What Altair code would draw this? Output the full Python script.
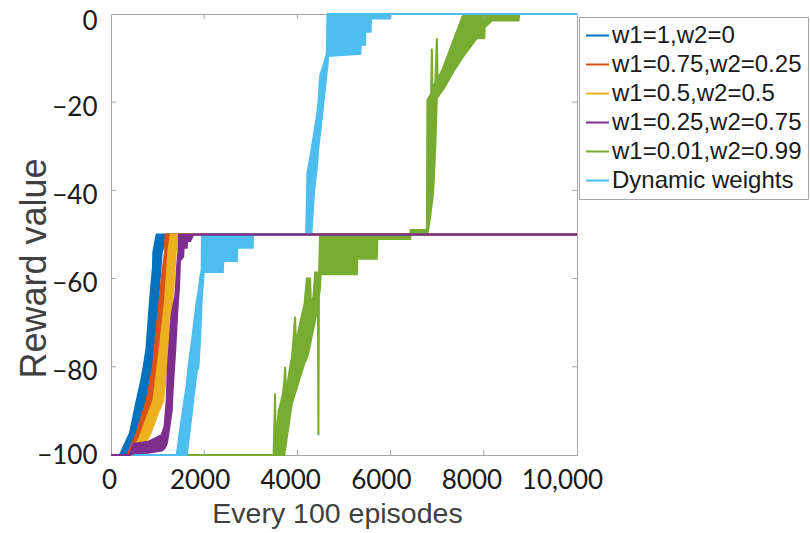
import altair as alt
import pandas as pd

# Plot area size (pixels)
W, H = 466, 441

SERIES = ["w1=1,w2=0", "w1=0.75,w2=0.25", "w1=0.5,w2=0.5",
          "w1=0.25,w2=0.75", "w1=0.01,w2=0.99", "Dynamic weights"]
COLORS = ["#0072BD", "#D95319", "#EDB120", "#7E2F8E", "#77AC30", "#4DBEEE"]

X_TICKS = [0, 2000, 4000, 6000, 8000, 10000]
Y_TICKS = [0, -20, -40, -60, -80, -100]

# Each run oscillates rapidly, so it is described by a lower and an upper
# envelope of the reward at a set of episode positions.
BLUE_EP = [0, 190, 408, 420, 551, 650, 700, 760, 837, 900, 908, 980, 1010, 1090, 1200, 10000]
BLUE_LO = [-100, -100, -100, -100, -97.9, -95, -91.7, -87.7, -83.9, -80, -79, -72.5, -65, -54, -50, -50]
BLUE_HI = [-100, -100, -95, -94.4, -87.7, -83, -80, -76, -65, -57.4, -54, -50, -50, -50, -50, -50]

ORANGE_EP = [0, 350, 520, 551, 740, 766, 900, 960, 1040, 1090, 1160, 1170, 1230, 1320, 1350, 10000]
ORANGE_LO = [-100, -100, -100, -99.3, -95, -94.1, -89.6, -87.7, -83.4, -80, -72.5, -71.4, -65, -54, -50, -50]
ORANGE_HI = [-100, -100, -95.8, -95, -88.5, -87.7, -80, -73.6, -65, -59.6, -54, -50, -50, -50, -50, -50]

YELLOW_EP = [0, 450, 620, 650, 850, 908, 1000, 1120, 1160, 1190, 1230, 1280, 1320, 1390, 1420, 10000]
YELLOW_LO = [-100, -100, -100, -99.3, -95, -93.4, -90.7, -87.7, -83.7, -80, -75.4, -69.2, -65, -54, -50, -50]
YELLOW_HI = [-100, -100, -95.8, -95, -89.3, -87.7, -80, -68.8, -65, -60.3, -54, -50, -50, -50, -50, -50]

PURPLE_EP = [0, 400, 480, 800, 1088, 1150, 1195, 1220, 1303, 1330, 1380, 1420, 1445, 1460,
             1480, 1550, 1560, 1625, 1635, 1700, 1767, 10000]
PURPLE_LO = [-100, -100, -99.6, -99.5, -99, -98.5, -97.5, -96, -90, -84, -76, -68, -64, -62,
             -56, -55, -53, -53, -51.5, -51.5, -50, -50]
PURPLE_HI = [-100, -100, -97.5, -97, -95.5, -93.5, -87.7, -80, -68, -66.5, -64, -57, -54, -50,
             -50, -50, -50, -50, -50, -50, -50, -50]

GREEN_EP = [0, 3490, 3521, 3535, 3600, 3693, 3720, 3736, 3760, 3843, 3880, 3900, 3950, 3970,
            4058, 4150, 4202, 4230, 4273, 4290, 4345, 4380, 4440, 4451, 4462, 4487, 4500,
            5275, 5285, 5705, 5715, 6420, 6430, 6743, 6778, 6790, 6849, 6870, 6885, 6900,
            6921, 6960, 6993, 7010, 7135, 7350, 7565, 7851, 8010, 8020, 8172, 8746, 8760, 10000]
GREEN_LO = [-100, -100, -100, -100, -100, -100, -100, -98.8, -97, -91, -88.4, -87.7, -86, -85.3,
            -82.3, -79.2, -78, -77, -74.9, -74, -71.2, -69.5, -66, -95.5, -64, -62, -59,
            -59, -55.5, -55.5, -51, -51, -50, -50, -50, -50, -46, -44, -43, -42,
            -39, -30, -19, -18.8, -17, -13, -9.5, -5.5, -5.5, -3, -1.5, -1.5, 0, 0]
GREEN_HI = [-100, -100, -86, -97, -90, -86, -83, -80, -86, -80, -78, -76, -68.6, -75,
            -70, -66, -60, -60, -60, -66, -64, -58.6, -58.6, -60, -60, -50, -50,
            -50, -50, -50, -50, -50, -49, -49, -50, -19.5, -18.5, -18, -7.8, -17,
            -16.5, -15.5, -5.5, -15, -12, -6, 0, 0, 0, 0, 0, 0, 0, 0]

CYAN_EP = [0, 1410, 1500, 1625, 1660, 1750, 1840, 1875, 1910, 1946, 1952, 1980, 1990, 2400,
           2410, 2700, 2710, 3040, 3050, 4187, 4216, 4300, 4360, 4416, 4452, 4487, 4580,
           4631, 4645, 4660, 5350, 5360, 5450, 5460, 5570, 5580, 5990, 6000, 10000]
CYAN_LO = [-100, -100, -100, -100, -97, -89, -81, -80.2, -74, -65, -64, -60, -58.5, -58.5,
           -56, -56, -53, -53, -50, -50, -50, -50, -40, -35, -30, -27, -18,
           -13, -12, -9.5, -9, -7, -7, -4, -4, -1, -1, 0, 0]
CYAN_HI = [-100, -100, -93, -84, -80.2, -73, -65, -63, -60, -58, -50, -50, -50, -50,
           -50, -50, -50, -50, -50, -50, -36, -31, -27, -23.3, -20, -14, -11,
           -9, 0, 0, 0, 0, 0, 0, 0, 0, 0, 0, 0]

RUNS = {
    "w1=1,w2=0": (BLUE_EP, BLUE_LO, BLUE_HI),
    "w1=0.75,w2=0.25": (ORANGE_EP, ORANGE_LO, ORANGE_HI),
    "w1=0.5,w2=0.5": (YELLOW_EP, YELLOW_LO, YELLOW_HI),
    "w1=0.25,w2=0.75": (PURPLE_EP, PURPLE_LO, PURPLE_HI),
    "w1=0.01,w2=0.99": (GREEN_EP, GREEN_LO, GREEN_HI),
    "Dynamic weights": (CYAN_EP, CYAN_LO, CYAN_HI),
}
# Drawing order: purple last so its -50 plateau sits on top
DRAW_ORDER = ["w1=1,w2=0", "w1=0.75,w2=0.25", "w1=0.5,w2=0.5",
              "w1=0.01,w2=0.99", "Dynamic weights", "w1=0.25,w2=0.75"]

FRAME = "#a6a6a6"

x_scale = alt.Scale(domain=[0, 10000], nice=False, zero=False)
y_scale = alt.Scale(domain=[-100, 0], nice=False, zero=False)

x_axis = alt.Axis(
    values=X_TICKS, format="d",
    labelExpr="datum.value == 10000 ? '10,000' : datum.label",
    ticks=False, domain=False, grid=False,
    labelFont="Lato", labelFontSize=26, labelColor="#1a1a1a",
    labelPadding=12, labelFlush=False, labelOverlap=False, labelBound=False,
    labelOffset=alt.ExprRef("-2 - datum.value * 0.0013"),
    title="Every 100 episodes", titleFont="Liberation Sans", titleFontSize=28.5,
    titleFontWeight="normal", titleColor="#404040",
    titleX=226, titleY=67, titleBaseline="alphabetic", titleAlign="center",
)
y_axis = alt.Axis(
    values=Y_TICKS, ticks=False, domain=False, grid=False,
    labelFont="Lato", labelFontSize=26, labelColor="#1a1a1a",
    labelPadding=14, labelOverlap=False, labelBound=False,
    labelOffset=alt.ExprRef("datum.value == 0 ? 7 : (datum.value == -100 ? 0 : 5)"),
    title="Reward value", titleFont="Liberation Sans", titleFontSize=36,
    titleFontWeight="normal", titleColor="#404040",
    titleX=-66, titleY=254, titleBaseline="alphabetic", titleAlign="center",
)
legend = alt.Legend(
    title=None, orient="none", legendX=468, legendY=3,
    symbolType="stroke", symbolSize=529, symbolStrokeWidth=2,
    labelFont="Liberation Sans", labelFontSize=24, labelColor="#1a1a1a",
    labelOffset=2, labelLimit=400, padding=6, rowPadding=4,
    strokeColor=FRAME, fillColor="white",
)
color_enc = alt.Color("series:N", scale=alt.Scale(domain=SERIES, range=COLORS), legend=legend)
x_enc = alt.X("episode:Q", scale=x_scale, axis=x_axis)

layers = []
for name in DRAW_ORDER:
    ep, lo, hi = RUNS[name]
    col = COLORS[SERIES.index(name)]
    df = pd.DataFrame({"episode": ep, "lo": lo, "hi": hi, "series": name})
    base = alt.Chart(df)
    layers.append(base.mark_area(color=col, opacity=1).encode(
        x=x_enc,
        y=alt.Y("lo:Q", scale=y_scale, axis=y_axis, stack=False),
        y2="hi:Q",
    ))
    for fld in ["lo", "hi"]:
        layers.append(base.mark_line(strokeWidth=2).encode(
            x=x_enc,
            y=alt.Y(f"{fld}:Q", scale=y_scale, axis=y_axis),
            color=color_enc,
        ))

# Inward tick marks on all four sides of the box
xt = pd.DataFrame({"v": X_TICKS[1:-1]})
yt = pd.DataFrame({"v": Y_TICKS[1:-1]})
xt_enc = alt.X("v:Q", scale=x_scale, axis=x_axis)
yt_enc = alt.Y("v:Q", scale=y_scale, axis=y_axis)
layers += [
    alt.Chart(xt).mark_rule(color=FRAME).encode(x=xt_enc, y=alt.value(H), y2=alt.value(H - 5)),
    alt.Chart(xt).mark_rule(color=FRAME).encode(x=xt_enc, y=alt.value(0), y2=alt.value(5)),
    alt.Chart(yt).mark_rule(color=FRAME).encode(y=yt_enc, x=alt.value(0), x2=alt.value(5)),
    alt.Chart(yt).mark_rule(color=FRAME).encode(y=yt_enc, x=alt.value(W), x2=alt.value(W - 5)),
]

chart = alt.layer(*layers).properties(
    width=W, height=H,
    padding={"left": 111, "top": 14, "right": 233, "bottom": 78},
    autosize=alt.AutoSizeParams(type="none"),
    background="white",
).configure_view(stroke=FRAME, strokeWidth=1)

chart.save("out.html", embed_options={"renderer": "svg", "actions": False})
